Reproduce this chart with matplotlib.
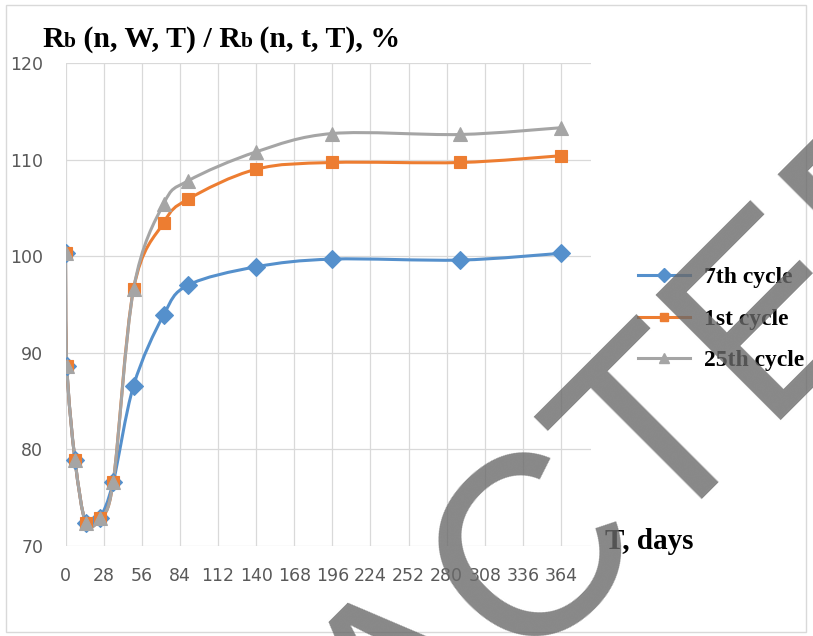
import numpy as np
import matplotlib
matplotlib.use("Agg")
import matplotlib.pyplot as plt
from matplotlib.path import Path
from matplotlib.patches import PathPatch, Rectangle
from matplotlib.lines import Line2D
from matplotlib.offsetbox import TextArea, HPacker, AnnotationBbox

# ---- data: relative resistance vs storage time ----
days = [0, 1, 7, 15, 25, 35, 50, 72, 90, 140, 196, 290, 364]
cycle_7 = [100.3, 88.6, 78.9, 72.35, 72.9, 76.6, 86.6, 93.9, 97.0, 98.9, 99.7, 99.6, 100.3]
cycle_1 = [100.3, 88.6, 78.9, 72.35, 72.9, 76.6, 96.6, 103.45, 105.9, 109.0, 109.7, 109.7, 110.4]
cycle_25 = [100.3, 88.6, 78.9, 72.35, 72.9, 76.6, 96.6, 105.4, 107.8, 110.8, 112.7, 112.6, 113.3]

series_labels = ["7th cycle", "1st cycle", "25th cycle"]
x_ticks = list(range(0, 365, 28))
y_ticks = [70, 80, 90, 100, 110, 120]

W, H = 813, 636
fig = plt.figure(figsize=(W / 100, H / 100), dpi=100)
fig.patch.set_facecolor("white")

# plot area (pixels -> figure fractions)
left, right, top, bottom = 65.5, 591, 63, 546
ax = fig.add_axes([left / W, 1 - bottom / H, (right - left) / W, (bottom - top) / H])


def smooth_path(x, y):
    """Catmull-Rom style bezier through the points (Excel 'smoothed line')."""
    pts = np.column_stack([x, y]).astype(float)
    n = len(pts)
    verts = [pts[0]]
    codes = [Path.MOVETO]
    for i in range(n - 1):
        p0 = pts[i - 1] if i > 0 else pts[i]
        p1, p2 = pts[i], pts[i + 1]
        p3 = pts[i + 2] if i + 2 < n else pts[i + 1]
        verts += [p1 + (p2 - p0) / 6, p2 - (p3 - p1) / 6, p2]
        codes += [Path.CURVE4] * 3
    return Path(verts, codes)


styles = [
    (cycle_7, "#5590CC", "D", 9.5),
    (cycle_1, "#ED7D31", "s", 8.8),
    (cycle_25, "#A5A5A5", "^", 10.5),
]

handles = []
for vals, color, marker, ms in styles:
    ax.add_patch(PathPatch(smooth_path(days, vals), facecolor="none",
                           edgecolor=color, lw=2.2, capstyle="round", zorder=3))
    ax.plot(days, vals, linestyle="none", marker=marker, ms=ms,
            color=color, markeredgewidth=0.8, zorder=4)
    handles.append(Line2D([], [], color=color, lw=2.2, marker=marker,
                          ms=ms * 0.7))

ax.set_xlim(0, 386)
ax.set_ylim(70, 120)
ax.set_xticks(x_ticks)
ax.set_yticks(y_ticks)
ax.grid(True, color="#D9D9D9", lw=0.9)
ax.set_axisbelow(True)
for sp in ax.spines.values():
    sp.set_visible(False)
ax.tick_params(length=0, labelsize=12.5, labelcolor="#595959")
ax.tick_params(axis="x", pad=15)
ax.tick_params(axis="y", pad=16)
for lab in ax.get_xticklabels() + ax.get_yticklabels():
    lab.set_family("DejaVu Sans")

# title with the smaller "b"
serif = dict(family="Liberation Serif", weight="bold", color="black")
big, small = 21.5, 15.5
parts = [("R", big), ("b", small), (" (n, W, T) / R", big), ("b", small),
         (" (n, t, T), %", big)]
title_box = HPacker(children=[TextArea(t, textprops=dict(size=s, **serif)) for t, s in parts],
                    align="baseline", pad=0, sep=0)
fig.add_artist(AnnotationBbox(title_box, (42, H - 53), xycoords="figure pixels",
                              box_alignment=(0, 0), frameon=False, pad=0))

# axis caption
fig.text(605 / W, 1 - 549 / H, "T, days", fontsize=21, ha="left", va="baseline", **serif)

# legend
fig.legend(handles, series_labels, loc="center left", bbox_to_anchor=(638 / W, 1 - 319 / H),
           frameon=False, borderpad=0, borderaxespad=0, handlelength=2.2,
           handletextpad=0.6, labelspacing=0.85,
           prop=dict(family="Liberation Serif", weight="bold", size=17))

# chart border
fig.add_artist(Rectangle((6 / W, 1 - 632 / H), 800 / W, 627 / H, transform=fig.transFigure,
                         fill=False, edgecolor="#D9D9D9", lw=1))

# watermark
fig.text(458 / W, 1 - 722 / H, "RETRACTED", rotation=45, rotation_mode="anchor",
         ha="center", va="baseline", fontsize=185, family="Liberation Sans",
         color="#6A6A6A", alpha=0.8, zorder=10)

fig.savefig("out.png", dpi=100)
